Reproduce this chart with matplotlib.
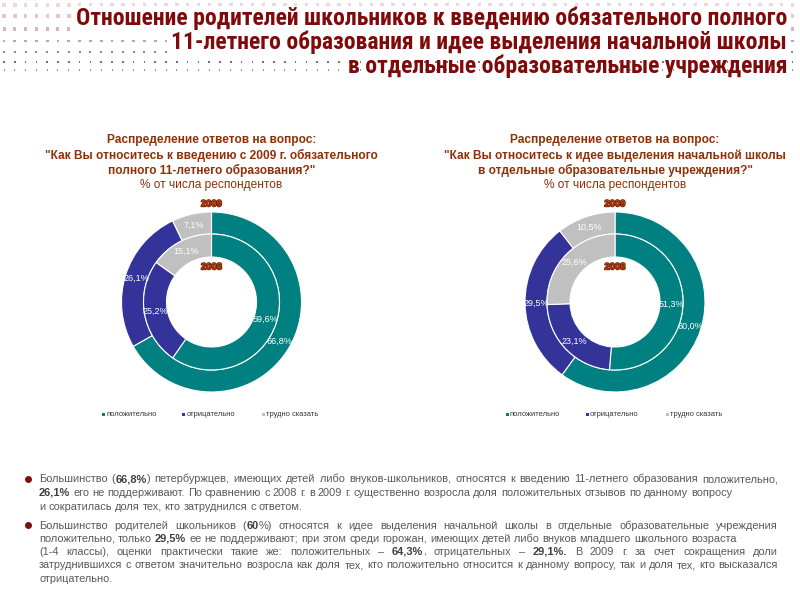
import matplotlib
matplotlib.use('Agg')
import matplotlib.pyplot as plt
from matplotlib import font_manager as fm
from matplotlib.lines import Line2D
from matplotlib.patches import Rectangle
import matplotlib.patheffects as pe
import numpy as np

# ---------------- data ----------------
categories = ['положительно', 'отрицательно', 'трудно сказать']
colors = ['#008080', '#333399', '#C0C0C0']

q1_2009 = [66.8, 26.1, 7.1]
q1_2008 = [59.6, 25.2, 15.1]
q2_2009 = [60.0, 29.5, 10.5]
q2_2008 = [51.3, 23.1, 25.6]

main_title = ['Отношение родителей школьников к введению обязательного полного',
              '11-летнего образования и идее выделения начальной школы',
              'в отдельные образовательные учреждения']

q1_title = ['Распределение ответов на вопрос:',
            '"Как Вы относитесь к введению с 2009 г. обязательного',
            'полного 11-летнего образования?"']
q2_title = ['Распределение ответов на вопрос:',
            '"Как Вы относитесь к идее выделения начальной школы',
            'в отдельные образовательные учреждения?"']
subtitle = '% от числа респондентов'
year_outer, year_inner = '2009', '2008'

bullet1 = [
    ([('Большинство (', 0), ('66,8%', 1), (') петербуржцев, имеющих детей либо внуков-школьников, относятся к введению 11-летнего образования положительно,', 0)], True),
    ([('26,1%', 1), (' его не поддерживают. По сравнению с 2008 г. в 2009 г. существенно возросла доля положительных отзывов по данному вопросу', 0)], False),
    ([('и сократилась доля тех, кто затруднился с ответом.', 0)], False),
]
bullet2 = [
    ([('Большинство родителей школьников (', 0), ('60', 1), ('%) относятся к идее выделения начальной школы в отдельные образовательные учреждения', 0)], True),
    ([('положительно, только ', 0), ('29,5%', 1), (' ее не поддерживают; при этом среди горожан, имеющих детей либо внуков младшего школьного возраста', 0)], False),
    ([('(1-4 классы), оценки практически такие же: положительных – ', 0), ('64,3%', 1), (', отрицательных – ', 0), ('29,1%.', 1), (' В 2009 г. за счет сокращения доли', 0)], True),
    ([('затруднившихся с ответом значительно возросла как доля тех, кто положительно относится к данному вопросу, так и доля тех, кто высказался', 0)], True),
    ([('отрицательно.', 0)], False),
]

# ---------------- setup ----------------
W, H = 800, 600
fig = plt.figure(figsize=(8, 6), dpi=100)
fig.patch.set_facecolor('white')
renderer = fig.canvas.get_renderer()


def fx(x):
    return x / W


def fy(y):
    return 1 - y / H


SANS = 'Liberation Sans'

# pick a condensed face if one is installed
names = {f.name for f in fm.fontManager.ttflist}
NARROW = dict(family=SANS, stretch='normal')
for cand in ['Liberation Sans Narrow', 'Arial Narrow', 'Roboto Condensed', 'Open Sans Condensed']:
    if cand in names:
        NARROW = dict(family=cand, stretch='normal')
        break
else:
    try:
        p = fm.findfont(fm.FontProperties(family='DejaVu Sans', stretch='condensed', weight='bold'),
                        fallback_to_default=False)
        if 'Condensed' in p:
            NARROW = dict(family='DejaVu Sans', stretch='condensed')
    except Exception:
        pass


def measure(s, size, bold=False, fam=None):
    fam = fam or dict(family=SANS)
    t = fig.text(0, 0, s, fontsize=size, fontweight='bold' if bold else 'normal', **fam)
    w = t.get_window_extent(renderer).width
    t.remove()
    return w


def fit(s, target, bold=False, fam=None, base=10):
    return base * target / measure(s, base, bold, fam)


# ---------------- background dot rows ----------------
rows = [(5, 3.4, '#EDD9DC'), (16, 3.4, '#E3C9CE'), (29, 3.0, '#D8B5BC'),
        (41, 2.8, '#C9A0AA'), (52, 2.0, '#A87E8C'), (62, 1.5, '#8C6878'),
        (70, 1.0, '#9A9A9A')]
xs = np.arange(4, 800, 10.8)
for y, s, c in rows:
    for x in xs:
        fig.add_artist(Rectangle((fx(x - s / 2), fy(y + s / 2)), s / W, s / H,
                                 transform=fig.transFigure, color=c, lw=0))

# ---------------- main title ----------------
tsize = fit(main_title[0], 711, True, NARROW)
tcol = '#7F0A0A'
for i, (line, yb) in enumerate(zip(main_title, [25, 49, 73])):
    kw = {}
    if i < 2:
        kw['bbox'] = dict(facecolor='white', edgecolor='none', pad=0.5)
    fig.text(fx(787), fy(yb), line, ha='right', va='baseline', fontsize=tsize,
             fontweight='bold', color=tcol, **NARROW, **kw)

# ---------------- donuts ----------------
R_OUT, W_OUT = 90, 22
R_IN, W_IN = 68, 23


def fmt(v):
    return ('%.1f' % v).replace('.', ',') + '%'


def donut(cx, cy, outer, inner, title):
    pad = 4
    ax = fig.add_axes([fx(cx - R_OUT - pad), fy(cy + R_OUT + pad),
                       (2 * (R_OUT + pad)) / W, (2 * (R_OUT + pad)) / H])
    wo, _ = ax.pie(outer, radius=R_OUT, colors=colors, startangle=90, counterclock=False,
                   wedgeprops=dict(width=W_OUT, edgecolor='white', linewidth=0.8))
    wi, _ = ax.pie(inner, radius=R_IN, colors=colors, startangle=90, counterclock=False,
                   wedgeprops=dict(width=W_IN, edgecolor='white', linewidth=0.8))
    ax.set_xlim(-(R_OUT + pad), R_OUT + pad)
    ax.set_ylim(-(R_OUT + pad), R_OUT + pad)
    ax.set_aspect('equal')
    ax.axis('off')
    for wedges, vals in ((wo, outer), (wi, inner)):
        for w, v in zip(wedges, vals):
            th = np.deg2rad((w.theta1 + w.theta2) / 2)
            r = w.r - w.width / 2
            ax.text(r * np.cos(th), r * np.sin(th), fmt(v), ha='center', va='center',
                    fontsize=6.5, color='white', family=SANS)
    yk = dict(ha='center', va='center', fontsize=6.8, fontweight='bold', family=SANS,
              color='#B5400C', path_effects=[pe.withStroke(linewidth=1.0, foreground='#6A2008')])
    ax.text(0, R_OUT + 8, year_outer, **yk)
    ax.text(0, cy - 267, year_inner, **yk)
    # chart title
    bsize = fit(title[0], 207, True)
    for line, yb in zip(title, [143, 159, 174]):
        fig.text(fx(cx), fy(yb), line, ha='center', va='baseline', fontsize=bsize,
                 fontweight='bold', family=SANS, color='#8E3008')
    fig.text(fx(cx), fy(188), subtitle, ha='center', va='baseline', fontsize=bsize,
             family=SANS, color='#8E3008')
    # legend
    lx = [cx - 108, cx - 28, cx + 52]
    for x, c, lab in zip(lx, colors, categories):
        fig.add_artist(Rectangle((fx(x - 1.5), fy(415.5)), 3 / W, 3 / H,
                                 transform=fig.transFigure, color=c, lw=0))
        fig.text(fx(x + 3), fy(414), lab, ha='left', va='center', fontsize=5.4,
                 family=SANS, color='#333333')


donut(211.5, 302, q1_2009, q1_2008, q1_title)
donut(615, 302, q2_2009, q2_2008, q2_title)

# ---------------- bullet text ----------------
TX0, TX1 = 39, 778
BODY = dict(family=SANS)
bsz = fit('26,1% его не поддерживают. По сравнению с 2008 г. в 2009 г. существенно возросла доля положительных отзывов по данному вопросу',
          699, False, BODY)
TXT = '#595959'


def words_of(segs):
    words = [[]]
    for txt, b in segs:
        parts = txt.split(' ')
        for i, p in enumerate(parts):
            if i > 0:
                words.append([])
            if p:
                words[-1].append((p, b))
    return [w for w in words if w]


space_w = measure('a a', bsz, False, BODY) - measure('aa', bsz, False, BODY)


def rich_line(segs, y, justify):
    words = words_of(segs)
    widths = [[measure(p, bsz, b, BODY) for p, b in w] for w in words]
    totals = [sum(ws) for ws in widths]
    gap = space_w
    if justify and len(words) > 1:
        gap = (TX1 - TX0 - sum(totals)) / (len(words) - 1)
    x = TX0
    for w, ws in zip(words, widths):
        for (p, b), pw in zip(w, ws):
            fig.text(fx(x), fy(y), p, ha='left', va='baseline', fontsize=bsz,
                     fontweight='bold' if b else 'normal',
                     color='#404040' if b else TXT, **BODY)
            x += pw
        x += gap


for (segs, j), y in zip(bullet1, [482.3, 495.7, 509.7]):
    rich_line(segs, y, j)
for (segs, j), y in zip(bullet2, [529, 541.7, 554.7, 568.3, 581.7]):
    rich_line(segs, y, j)

for y in (478.5, 525):
    fig.add_artist(Line2D([fx(28)], [fy(y)], marker='o', ms=4, color='#7A1010',
                          transform=fig.transFigure, lw=0))

fig.savefig('out.png', dpi=100, facecolor='white')
